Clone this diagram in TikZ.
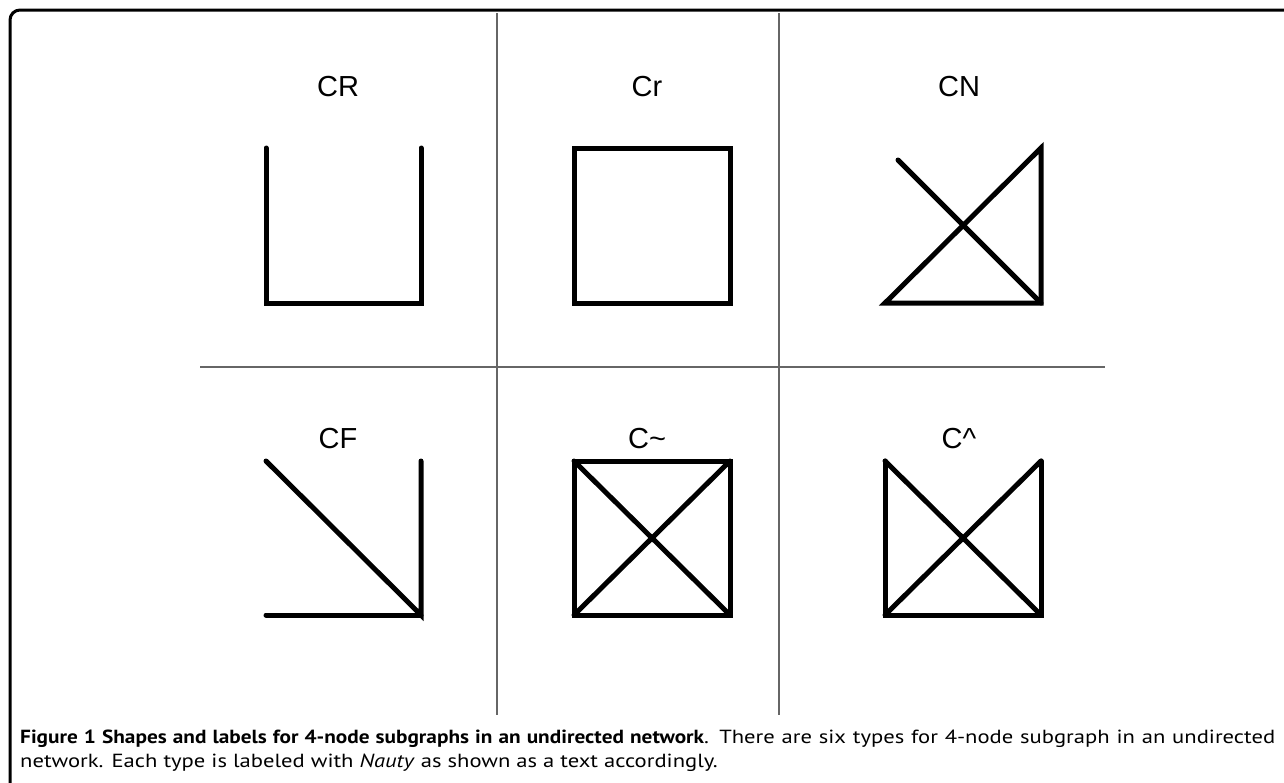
\documentclass[tikz,border=0pt]{standalone}
\usepackage{fontspec}
\setmainfont{Liberation Sans}
\newfontfamily\capfont[FakeStretch=1.19]{PT Sans}
\newfontfamily\capboldfam[FakeStretch=1.12]{PT Sans}
\newcommand{\capbf}[1]{{\capboldfam\bfseries #1}}
\begin{document}
\begin{tikzpicture}[x=1pt,y=-1pt,
  edge/.style={line width=5pt, line cap=round, line join=miter},
  divider/.style={line width=1.6pt, draw=black!60},
  frameline/.style={line width=3pt, rounded corners=10pt},
  lbl/.style={font=\fontsize{29}{32}\selectfont, inner sep=0, anchor=base}]
\useasboundingbox (0,0) rectangle (1284,782);
% frame
\draw[frameline] (10,790) -- (10,10) -- (1295,10);
% dividers
\coordinate (v1t) at (497,13); \coordinate (v1b) at (497,715);
\coordinate (v2t) at (779,13); \coordinate (v2b) at (779,715);
\coordinate (hl) at (200,367); \coordinate (hr) at (1105,367);
\draw[divider] (v1t) -- (v1b);
\draw[divider] (v2t) -- (v2b);
\draw[divider] (hl) -- (hr);
% labels
\node[lbl] (lCR) at (338,96) {CR};
\node[lbl] (lCr) at (647,96) {Cr};
\node[lbl] (lCN) at (959,96) {CN};
\node[lbl] (lCF) at (338,448) {CF};
\node[lbl] (lCt) at (647,448) {C\char`\~};
\node[lbl] (lCh) at (959,448) {C\char`\^};
% CR
\coordinate (a1) at (266,148); \coordinate (a2) at (421,148);
\coordinate (a3) at (266,303); \coordinate (a4) at (421,303);
\draw[edge] (a1) -- (a3) -- (a4) -- (a2);
% Cr
\coordinate (b1) at (574,148); \coordinate (b2) at (730,148);
\coordinate (b3) at (574,303); \coordinate (b4) at (730,303);
\draw[edge] (b1) -- (b2) -- (b4) -- (b3) -- cycle;
% CN
\coordinate (c1) at (898,160); \coordinate (c2) at (1041,148);
\coordinate (c3) at (885,303); \coordinate (c4) at (1041,303);
\draw[edge] (c2) -- (c4) -- (c3) -- cycle;
\draw[edge] (c1) -- (c4);
% CF
\coordinate (d1) at (266,461); \coordinate (d2) at (421,461);
\coordinate (d3) at (266,615); \coordinate (d4) at (421,615);
\draw[edge] (d1) -- (d4) -- (d2);
\draw[edge] (d3) -- (d4);
% C~
\coordinate (e1) at (574,461); \coordinate (e2) at (730,461);
\coordinate (e3) at (574,615); \coordinate (e4) at (730,615);
\draw[edge] (e1) -- (e2) -- (e4) -- (e3) -- cycle;
\draw[edge] (e1) -- (e4);
\draw[edge] (e2) -- (e3);
% C^
\coordinate (f1) at (885,461); \coordinate (f2) at (1041,461);
\coordinate (f3) at (885,615); \coordinate (f4) at (1041,615);
\draw[edge] (f1) -- (f3) -- (f4) -- (f2);
\draw[edge] (f1) -- (f4);
\draw[edge] (f3) -- (f2);
% caption
\node[anchor=north west, inner sep=0, text width=1255pt, align=justify,
  font={\capfont\fontsize{19}{24}\selectfont}] (cap) at (20,730)
  {\hyphenpenalty=10000\exhyphenpenalty=10000\capbf{Figure 1 Shapes and labels for 4-node subgraphs in an undirected network}. There are six types for 4-node subgraph in an undirected\linebreak network. Each type is labeled with \textit{Nauty} as shown as a text accordingly.};
\end{tikzpicture}
\end{document}
